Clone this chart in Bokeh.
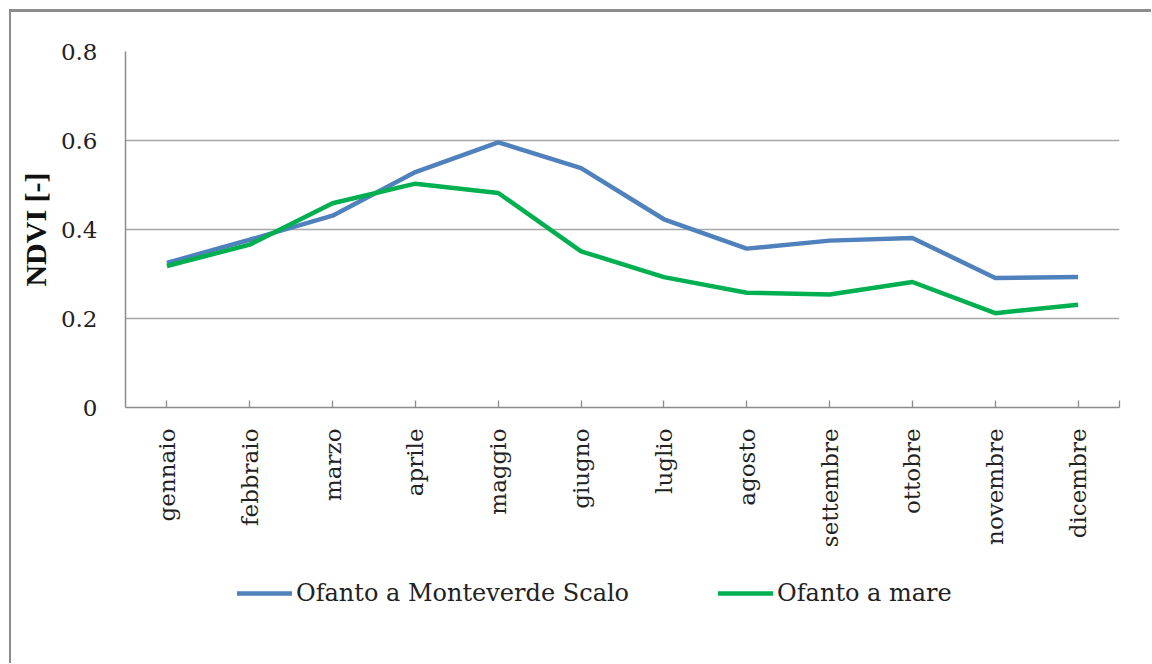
import math
from bokeh.plotting import figure
from bokeh.layouts import column
from bokeh.models import Range1d, FixedTicker, Legend, LegendItem
from bokeh.embed import file_html
from bokeh.resources import INLINE

months = ["gennaio", "febbraio", "marzo", "aprile", "maggio", "giugno",
          "luglio", "agosto", "settembre", "ottobre", "novembre", "dicembre"]
monteverde = [0.325, 0.377, 0.431, 0.529, 0.596, 0.538,
              0.423, 0.357, 0.375, 0.381, 0.291, 0.293]
mare = [0.318, 0.366, 0.459, 0.503, 0.482, 0.351,
        0.293, 0.258, 0.254, 0.282, 0.212, 0.231]
series_names = ["Ofanto a Monteverde Scalo", "Ofanto a mare"]
series_colors = ["#4f81bd", "#00b050"]
y_ticks = [0, 0.2, 0.4, 0.6, 0.8]
y_tick_labels = ["0", "0.2", "0.4", "0.6", "0.8"]
y_title = "NDVI [-]"

n = len(months)
x = [i + 0.5 for i in range(n)]
series_values = [monteverde, mare]

FONT = "DejaVu Serif"
TXT = "#222222"
GRID = "#a6a6a6"
AXC = "#8c8c8c"

p = figure(width=1140, height=555, output_backend="svg", toolbar_location=None,
           x_range=Range1d(0, n), y_range=Range1d(0, y_ticks[-1]),
           min_border_left=114, min_border_right=32,
           min_border_top=39, min_border_bottom=160)
p.background_fill_color = "white"
p.border_fill_color = "white"
p.outline_line_color = None

# x axis
p.xaxis.ticker = FixedTicker(ticks=x + [n])
ov = {xi: m for xi, m in zip(x, months)}
ov[n] = ""
p.xaxis.major_label_overrides = ov
p.xaxis.major_label_orientation = math.pi / 2
p.xaxis.major_label_text_font = FONT
p.xaxis.major_label_text_font_size = "23px"
p.xaxis.major_label_text_color = TXT
p.xaxis.major_label_standoff = 21
p.xaxis.major_tick_in = 7
p.xaxis.major_tick_out = 0
p.xaxis.major_tick_line_color = AXC
p.xaxis.major_tick_line_width = 1.3
p.xaxis.minor_tick_line_color = None
p.xaxis.axis_line_color = AXC
p.xaxis.axis_line_width = 1.5
p.xgrid.visible = False

# y axis
p.yaxis.ticker = FixedTicker(ticks=y_ticks)
p.yaxis.major_label_overrides = {t: s for t, s in zip(y_ticks, y_tick_labels)}
p.yaxis.major_label_text_font = FONT
p.yaxis.major_label_text_font_size = "23px"
p.yaxis.major_label_text_color = TXT
p.yaxis.major_label_standoff = 28
p.yaxis.major_tick_in = 0
p.yaxis.major_tick_out = 0
p.yaxis.minor_tick_line_color = None
p.yaxis.axis_line_color = AXC
p.yaxis.axis_line_width = 1.5
p.yaxis.axis_label = y_title
p.yaxis.axis_label_text_font = "Liberation Serif"
p.yaxis.axis_label_text_font_style = "bold"
p.yaxis.axis_label_text_font_size = "30px"
p.yaxis.axis_label_text_color = "#111111"
p.yaxis.axis_label_standoff = 6
p.ygrid.grid_line_color = GRID
p.ygrid.grid_line_width = 1.4

for vals, col in zip(series_values, series_colors):
    p.line(x, vals, line_color=col, line_width=4.5)

# legend strip below the chart (its own lines lie outside its visible ranges)
lg = figure(width=1140, height=96, output_backend="svg", toolbar_location=None,
            x_range=Range1d(-2, -1), y_range=Range1d(-2, -1),
            x_axis_location=None, y_axis_location=None, min_border=0)
lg.grid.visible = False
lg.outline_line_color = None
lg.background_fill_color = "white"
lg.border_fill_color = "white"
items = []
for name, vals, col in zip(series_names, series_values, series_colors):
    r = lg.line(x, vals, line_color=col, line_width=4.5, line_cap="round")
    items.append(LegendItem(label=name, renderers=[r]))
legend = Legend(items=items, orientation="horizontal", location=(112, 56),
                glyph_width=55, glyph_height=20, label_standoff=4, spacing=89,
                padding=0, margin=0, border_line_color=None,
                background_fill_alpha=0,
                label_text_font=FONT, label_text_font_size="24px",
                label_text_color=TXT)
lg.add_layout(legend)

layout = column(p, lg, spacing=0)
layout.styles = {"margin-left": "9px", "margin-top": "9px",
                 "border-left": "2px solid #8c8c8c", "border-top": "3px solid #8c8c8c"}

open("out.html", "w").write(file_html(layout, INLINE))
